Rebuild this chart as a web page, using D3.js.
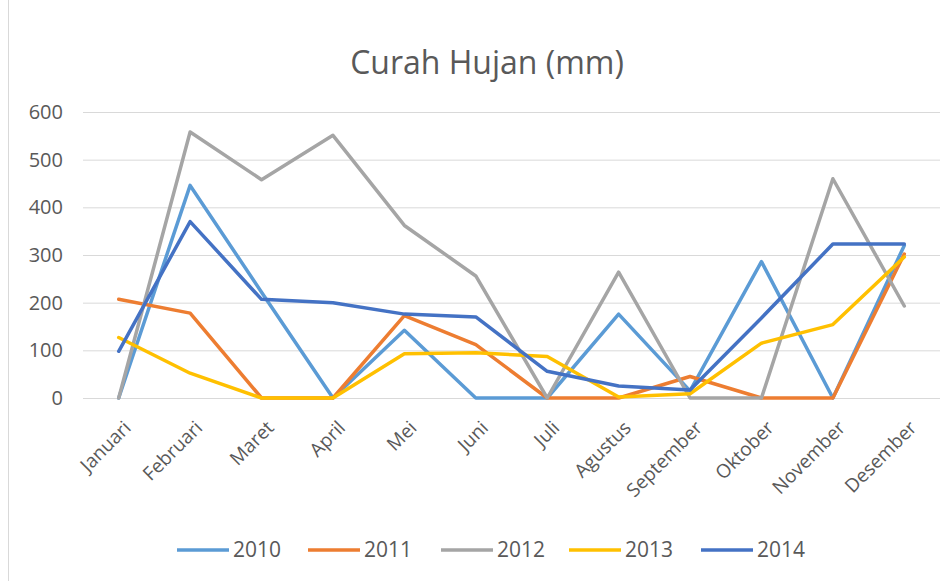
<!DOCTYPE html>
<html>
<head>
<meta charset="utf-8">
<script src="https://cdn.jsdelivr.net/npm/d3@7"></script>
<style>
  html, body { margin: 0; padding: 0; background: #ffffff; }
  svg { display: block; }
  text { font-family: "Open Sans", "Liberation Sans", sans-serif; fill: #595959; }
</style>
</head>
<body>
<svg id="chart" width="952" height="581"></svg>
<script>
const months = ["Januari","Februari","Maret","April","Mei","Juni","Juli","Agustus","September","Oktober","November","Desember"];
const yTicks = [0, 100, 200, 300, 400, 500, 600];
const seriesNames = ["2010","2011","2012","2013","2014"];
const seriesColors = ["#5B9BD5","#ED7D31","#A5A5A5","#FFC000","#4472C4"];
const v2010 = [0, 446, 222, 0, 142, 0, 0, 176, 15, 286, 0, 320];
const v2011 = [207, 178, 0, 0, 173, 112, 0, 0, 45, 0, 0, 302];
const v2012 = [0, 558, 458, 551, 362, 256, 0, 264, 0, 0, 460, 193];
const v2013 = [127, 52, 0, 0, 93, 95, 87, 2, 9, 115, 154, 296];
const v2014 = [98, 370, 207, 200, 176, 170, 56, 25, 17, 168, 323, 323];
const seriesValues = [v2010, v2011, v2012, v2013, v2014];

const svg = d3.select("#chart");

// chart border (left edge visible)
svg.append("line").attr("x1", 8.5).attr("x2", 8.5).attr("y1", 0).attr("y2", 581)
  .attr("stroke", "#d9d9d9").attr("stroke-width", 1);

const x = d3.scalePoint().domain(months).range([83, 940]).padding(0.5);
const y = d3.scaleLinear().domain([0, 600]).range([398, 112]);

// title
svg.append("text").attr("x", 487).attr("y", 74).attr("text-anchor", "middle")
  .style("font-size", "32px").text("Curah Hujan (mm)");

// gridlines
svg.append("g").selectAll("line").data(yTicks).join("line")
  .attr("x1", 83).attr("x2", 940)
  .attr("y1", d => y(d) + 0.5).attr("y2", d => y(d) + 0.5)
  .attr("stroke", "#d9d9d9").attr("stroke-width", 1);

// y axis labels
const yAxis = d3.axisLeft(y).tickValues(yTicks).tickSize(0).tickPadding(0);
const gy = svg.append("g").attr("transform", "translate(63,0)").call(yAxis);
gy.select(".domain").remove();
gy.selectAll("text").style("font-size", "20px").style("fill", "#595959")
  .style("font-family", "'Open Sans','Liberation Sans',sans-serif");

// x axis labels
const xAxis = d3.axisBottom(x).tickSize(0).tickPadding(0);
const gx = svg.append("g").attr("transform", "translate(0,398)").call(xAxis);
gx.select(".domain").remove();
gx.selectAll("text")
  .style("font-size", "19px").style("fill", "#595959")
  .style("font-family", "'Open Sans','Liberation Sans',sans-serif")
  .attr("text-anchor", "end")
  .attr("dy", null).attr("y", 0)
  .attr("transform", "translate(13,31) rotate(-45)");

// lines
const line = d3.line().x((d, i) => x(months[i])).y(d => y(d));
svg.append("g").selectAll("path").data(seriesValues).join("path")
  .attr("d", d => line(d))
  .attr("fill", "none")
  .attr("stroke", (d, i) => seriesColors[i])
  .attr("stroke-width", 3.5)
  .attr("stroke-linejoin", "round")
  .attr("stroke-linecap", "round");

// legend
const legendX = [177, 308, 441, 569, 701];
const lg = svg.append("g").selectAll("g").data(seriesNames).join("g")
  .attr("transform", (d, i) => `translate(${legendX[i]},550)`);
lg.append("line").attr("x1", 0).attr("x2", 52).attr("y1", 0).attr("y2", 0)
  .attr("stroke", (d, i) => seriesColors[i]).attr("stroke-width", 3.5);
lg.append("text").attr("x", 56).attr("y", 0).attr("dy", "0.35em")
  .style("font-size", "21px").text(d => d);
</script>
</body>
</html>
